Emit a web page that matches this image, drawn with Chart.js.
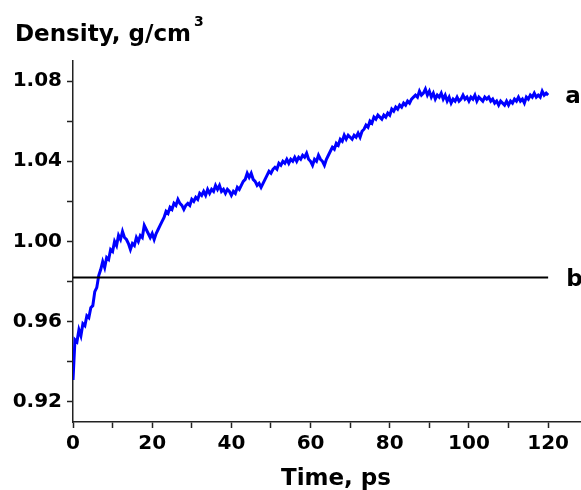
<!DOCTYPE html>
<html>
<head>
<meta charset="utf-8">
<title>Density vs time</title>
<script src="https://cdn.jsdelivr.net/npm/chart.js@4.4.1/dist/chart.umd.min.js"></script>
<style>
  html, body { margin: 0; padding: 0; background: #fff; }
  canvas { display: block; }
</style>
</head>
<body>
<canvas id="myChart" width="581" height="490"></canvas>
<script>
// sampling interval of the density trace, ps
var timeStep = 0.5;

// density trace (g/cm3), one value every 0.5 ps from 0 to 120 ps
var density = [
  0.931, 0.951, 0.950, 0.956, 0.953, 0.959, 0.958, 0.963, 0.962, 0.967,
  0.968, 0.975, 0.977, 0.983, 0.986, 0.990, 0.987, 0.992, 0.991, 0.996,
  0.995, 1.000, 0.998, 1.003, 1.001, 1.005, 1.002, 1.001, 0.999, 0.996,
  0.999, 0.998, 1.002, 1.000, 1.003, 1.002, 1.008, 1.006, 1.004, 1.002,
  1.004, 1.001, 1.004, 1.006, 1.008, 1.010, 1.012, 1.015, 1.014, 1.017,
  1.016, 1.019, 1.018, 1.021, 1.019, 1.018, 1.016, 1.018, 1.019, 1.018,
  1.021, 1.020, 1.022, 1.021, 1.024, 1.023, 1.025, 1.023, 1.026, 1.024,
  1.026, 1.025, 1.028, 1.026, 1.028, 1.025, 1.026, 1.024, 1.026, 1.025,
  1.023, 1.025, 1.024, 1.027, 1.026, 1.028, 1.030, 1.031, 1.034, 1.032,
  1.034, 1.031, 1.030, 1.028, 1.029, 1.027, 1.029, 1.031, 1.033, 1.035,
  1.034, 1.036, 1.037, 1.036, 1.039, 1.038, 1.040, 1.039, 1.041, 1.039,
  1.041, 1.040, 1.042, 1.040, 1.042, 1.041, 1.043, 1.042, 1.044, 1.041,
  1.040, 1.038, 1.041, 1.040, 1.043, 1.041, 1.040, 1.038, 1.041, 1.043,
  1.045, 1.047, 1.046, 1.049, 1.048, 1.051, 1.050, 1.053, 1.051, 1.053,
  1.052, 1.051, 1.053, 1.052, 1.054, 1.052, 1.055, 1.056, 1.058, 1.057,
  1.060, 1.059, 1.062, 1.061, 1.063, 1.062, 1.061, 1.063, 1.062, 1.064,
  1.063, 1.066, 1.065, 1.067, 1.066, 1.068, 1.067, 1.069, 1.068, 1.070,
  1.069, 1.071, 1.072, 1.073, 1.072, 1.075, 1.073, 1.074, 1.076, 1.073,
  1.075, 1.072, 1.074, 1.071, 1.073, 1.072, 1.074, 1.071, 1.073, 1.070,
  1.072, 1.069, 1.071, 1.070, 1.072, 1.070, 1.071, 1.073, 1.071, 1.072,
  1.070, 1.072, 1.071, 1.073, 1.070, 1.072, 1.071, 1.070, 1.072, 1.071,
  1.072, 1.070, 1.071, 1.069, 1.070, 1.068, 1.070, 1.069, 1.068, 1.070,
  1.068, 1.070, 1.069, 1.071, 1.070, 1.072, 1.070, 1.071, 1.069, 1.072,
  1.071, 1.073, 1.072, 1.074, 1.072, 1.073, 1.072, 1.075, 1.073, 1.074,
  1.073
];

// reference density (line b), drawn over the same time span
var refDensity = 0.982;
var refTimes = [0, 120];

var xTickValues = [0, 10, 20, 30, 40, 50, 60, 70, 80, 90, 100, 110, 120];
var xTickLabels = [0, 20, 40, 60, 80, 100, 120];
var yTickValues = [0.92, 0.94, 0.96, 0.98, 1.00, 1.02, 1.04, 1.06, 1.08];
var yTickLabels = [0.92, 0.96, 1.00, 1.04, 1.08];

var tracePoints = density.map(function (d, i) { return { x: i * timeStep, y: d }; });
var refPoints = refTimes.map(function (t) { return { x: t, y: refDensity }; });

var FONT = '"DejaVu Sans", "Liberation Sans", Arial, sans-serif';

function hasLabel(list, v) {
    return list.some(function (l) { return Math.abs(l - v) < 1e-6; });
}

// axis titles and curve labels
var annotations = {
    id: 'annotations',
    afterDraw: function (chart) {
        var ctx = chart.ctx;
        var xs = chart.scales.x, ys = chart.scales.y;
        ctx.save();
        ctx.fillStyle = '#000';
        ctx.textBaseline = 'alphabetic';

        ctx.font = 'bold 23px ' + FONT;
        ctx.textAlign = 'left';
        var t = 'Density, g/cm';
        ctx.fillText(t, 15, 41);
        var w = ctx.measureText(t).width;
        ctx.font = 'bold 14px ' + FONT;
        ctx.fillText('3', 15 + w + 3, 26);

        ctx.font = 'bold 23px ' + FONT;
        ctx.textAlign = 'center';
        ctx.fillText('Time, ps', 336, 485);

        ctx.textAlign = 'left';
        var xEnd = xs.getPixelForValue(120);
        ctx.fillText('a', xEnd + 17, ys.getPixelForValue(density[density.length - 1]) + 8);
        ctx.fillText('b', xEnd + 18, ys.getPixelForValue(refDensity) + 8);
        ctx.restore();
    }
};

var ctx = document.getElementById('myChart').getContext('2d');
var myChart = new Chart(ctx, {
    type: 'line',
    data: {
        datasets: [{
            data: refPoints,
            borderColor: '#000',
            borderWidth: 2,
            pointRadius: 0,
            fill: false
        }, {
            data: tracePoints,
            borderColor: '#0000ff',
            borderWidth: 3,
            pointRadius: 0,
            tension: 0,
            fill: false
        }]
    },
    options: {
        responsive: false,
        animation: false,
        devicePixelRatio: 1,
        layout: { padding: { top: 61, right: 0, bottom: 0, left: 0 } },
        plugins: {
            legend: { display: false },
            tooltip: { enabled: false },
            title: { display: false }
        },
        scales: {
            x: {
                type: 'linear',
                min: 0,
                max: 128.3,
                afterFit: function (s) { s.height = 68; },
                afterBuildTicks: function (s) {
                    s.ticks = xTickValues.map(function (v) { return { value: v }; });
                },
                ticks: {
                    color: '#000',
                    padding: 4,
                    maxRotation: 0,
                    autoSkip: false,
                    font: { family: FONT, size: 20, weight: 'bold' },
                    callback: function (v) { return hasLabel(xTickLabels, v) ? String(v) : ''; }
                },
                grid: {
                    drawOnChartArea: false,
                    drawTicks: true,
                    tickLength: 6,
                    tickWidth: 1.5,
                    tickColor: '#222'
                },
                border: { color: '#222', width: 1.5 }
            },
            y: {
                type: 'linear',
                min: 0.91,
                max: 1.09,
                afterFit: function (s) { s.width = 73; },
                afterBuildTicks: function (s) {
                    s.ticks = yTickValues.map(function (v) { return { value: v }; });
                },
                ticks: {
                    color: '#000',
                    padding: 5,
                    autoSkip: false,
                    font: { family: FONT, size: 20, weight: 'bold' },
                    callback: function (v) { return hasLabel(yTickLabels, v) ? v.toFixed(2) : ''; }
                },
                grid: {
                    drawOnChartArea: false,
                    drawTicks: true,
                    tickLength: 6,
                    tickWidth: 1.5,
                    tickColor: '#222'
                },
                border: { color: '#222', width: 1.5 }
            }
        }
    },
    plugins: [annotations]
});
</script>
</body>
</html>
